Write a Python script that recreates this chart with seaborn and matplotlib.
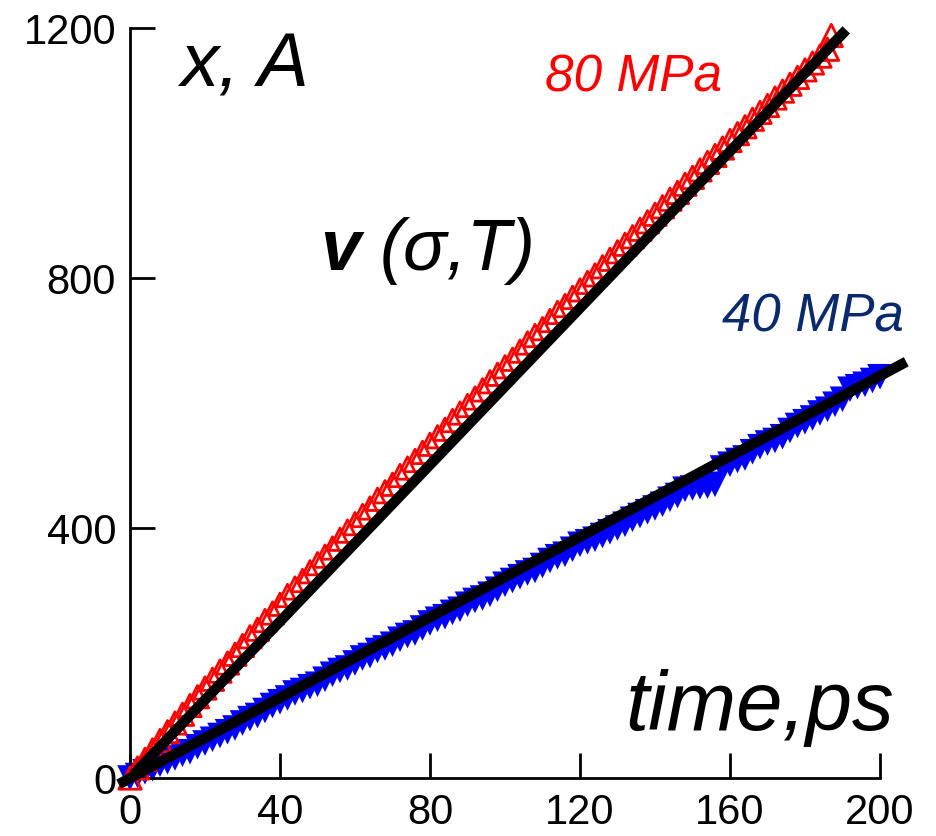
import matplotlib
matplotlib.use("Agg")
import matplotlib.pyplot as plt
import seaborn as sns
import pandas as pd

# ---- data ----
t_80 = [0, 2, 4, 6, 8, 10, 12, 14, 16, 18, 20, 22, 24, 26, 28, 30, 32, 34, 36, 38,
        40, 42, 44, 46, 48, 50, 52, 54, 56, 58, 60, 62, 64, 66, 68, 70, 72, 74, 76, 78,
        80, 82, 84, 86, 88, 90, 92, 94, 96, 98, 100, 102, 104, 106, 108, 110, 112, 114,
        116, 118, 120, 122, 124, 126, 128, 130, 132, 134, 136, 138, 140, 142, 144, 146,
        148, 150, 152, 154, 156, 158, 160, 162, 164, 166, 168, 170, 172, 174, 176, 178,
        180, 182, 184, 186, 187]
x_80 = [0, 16, 30, 45, 60, 74, 88, 102, 116, 130, 144, 158, 171, 184, 198, 212, 226, 238, 252, 264,
        278, 292, 304, 316, 330, 343, 355, 368, 382, 395, 407, 420, 432, 446, 458, 470, 484, 496, 508, 521,
        534, 546, 558, 572, 584, 596, 608, 621, 634, 646, 658, 670, 683, 696, 708, 719, 732, 745,
        756, 769, 781, 793, 805, 818, 830, 842, 854, 866, 878, 890, 902, 914, 926, 937,
        950, 961, 973, 985, 996, 1008, 1020, 1031, 1042, 1054, 1065, 1076, 1088, 1099, 1110, 1121,
        1133, 1144, 1155, 1166, 1188]

t_40 = [0, 2, 4, 6, 8, 10, 12, 14, 16, 18, 20, 22, 24, 26, 28, 30, 32, 34, 36, 38,
        40, 42, 44, 46, 48, 50, 52, 54, 56, 58, 60, 62, 64, 66, 68, 70, 72, 74, 76, 78,
        80, 82, 84, 86, 88, 90, 92, 94, 96, 98, 100, 102, 104, 106, 108, 110, 112, 114,
        116, 118, 120, 122, 124, 126, 128, 130, 132, 134, 136, 138, 140, 142, 144, 146,
        148, 150, 152, 154, 156, 158, 160, 162, 164, 166, 168, 170, 172, 174, 176, 178,
        180, 182, 184, 186, 188, 190, 192, 194, 196, 198, 200]
x_40 = [0, 4, 10, 15, 22, 26, 32, 38, 42, 50, 56, 62, 68, 74, 80, 88, 95, 100, 108, 116,
        122, 128, 136, 140, 146, 150, 158, 166, 172, 176, 184, 192, 196, 204, 208, 214, 222, 228, 232, 240,
        248, 254, 258, 265, 270, 278, 284, 288, 294, 302, 310, 316, 322, 328, 332, 340, 348, 354,
        358, 366, 374, 378, 382, 388, 394, 400, 406, 414, 420, 426, 432, 438, 446, 452,
        462, 464, 466, 467, 470, 496, 502, 508, 512, 522, 530, 536, 540, 546, 556, 564,
        570, 576, 584, 590, 598, 606, 622, 626, 630, 636, 642]

fit_t_80 = [1, 191]
fit_x_80 = [6, 1197]
fit_t_40 = [-3, 207]
fit_x_40 = [-10, 666]

x_ticks = [0, 40, 80, 120, 160, 200]
y_ticks = [0, 400, 800, 1200]

# ---- plotting ----
sns.set_theme(style="white")
plt.rcParams['font.family'] = ['Liberation Sans', 'DejaVu Sans']
plt.rcParams['text.color'] = 'black'
plt.rcParams['xtick.color'] = 'black'
plt.rcParams['ytick.color'] = 'black'

W, H = 937, 836
fig = plt.figure(figsize=(W / 100, H / 100), dpi=100)
ax = fig.add_axes([130 / W, 58 / H, 750 / W, 750 / H])

df80 = pd.DataFrame({"t": t_80, "x": x_80})
df40 = pd.DataFrame({"t": t_40, "x": x_40})

sns.scatterplot(data=df40, x="t", y="x", ax=ax, marker="v",
                color="#0000ff", linewidth=0, clip_on=False, zorder=2)
blue = ax.collections[-1]
blue.set_sizes([340])
blue.set_facecolor("#0000ff")
blue.set_edgecolor("none")

sns.scatterplot(data=df80, x="t", y="x", ax=ax, marker="^",
                color="#ff0000", clip_on=False, zorder=3)
red = ax.collections[-1]
red.set_sizes([260])
red.set_facecolor("none")
red.set_edgecolor("#ff0000")
red.set_linewidth(2.0)

sns.lineplot(x=fit_t_80, y=fit_x_80, ax=ax, color="black", linewidth=7.5,
             clip_on=False, zorder=4, solid_capstyle="butt")
sns.lineplot(x=fit_t_40, y=fit_x_40, ax=ax, color="black", linewidth=7.5,
             clip_on=False, zorder=4, solid_capstyle="butt")

ax.set_xlim(0, 200)
ax.set_ylim(0, 1200)
ax.set_xticks(x_ticks)
ax.set_yticks(y_ticks)
ax.set_xlabel("")
ax.set_ylabel("")
for side in ["top", "right"]:
    ax.spines[side].set_visible(False)
for side in ["left", "bottom"]:
    ax.spines[side].set_color("black")
    ax.spines[side].set_linewidth(2)
ax.tick_params(axis="both", direction="in", length=18, width=2, colors="black",
               labelcolor="black", labelsize=30, left=True, bottom=True)
ax.tick_params(axis="x", pad=11)
ax.tick_params(axis="y", pad=10)

def fx(px):
    return px / W

def fy(py):
    return 1 - py / H

fig.text(fx(180), fy(86), "x, A", fontsize=55, style="italic", color="black",
         ha="left", va="baseline")
fig.text(fx(545), fy(92), "80 MPa", fontsize=37, style="italic", color="#ff0000",
         ha="left", va="baseline")
fig.text(fx(722), fy(332), "40 MPa", fontsize=38, style="italic", color="#0b2a6b",
         ha="left", va="baseline")
fig.text(fx(320), fy(270), "v", fontsize=52, style="italic", weight="bold", color="black",
         ha="left", va="baseline")
fig.text(fx(380), fy(270), "(σ,T)", fontsize=52, style="italic", color="black",
         ha="left", va="baseline")
fig.text(fx(625), fy(730), "time,ps", fontsize=60, style="italic", color="black",
         ha="left", va="baseline")

fig.savefig("out.png", dpi=100, facecolor="white")
